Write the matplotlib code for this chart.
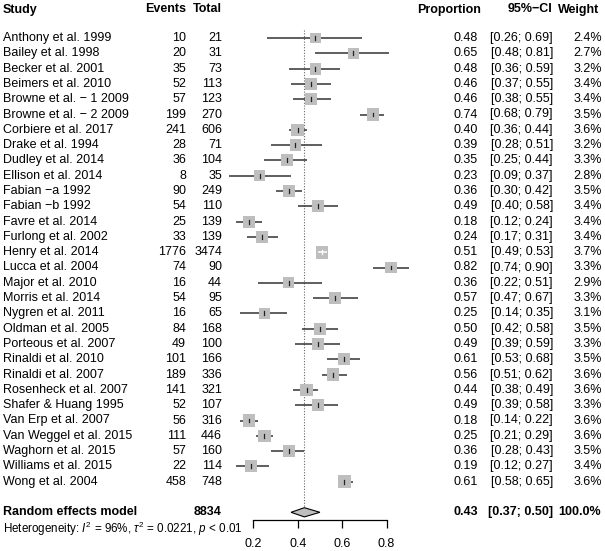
import numpy as np
import matplotlib.pyplot as plt
import matplotlib.transforms as mtransforms

plt.rcParams['font.family'] = ['Liberation Sans', 'DejaVu Sans']
plt.rcParams['mathtext.fontset'] = 'custom'
plt.rcParams['mathtext.rm'] = 'Liberation Sans'
plt.rcParams['mathtext.it'] = 'Liberation Sans:italic'

# data
studies = ["Anthony et al. 1999", "Bailey et al. 1998", "Becker et al. 2001", "Beimers et al. 2010",
           "Browne et al. \u2212 1 2009", "Browne et al. \u2212 2 2009", "Corbiere et al. 2017",
           "Drake et al. 1994", "Dudley et al. 2014", "Ellison et al. 2014", "Fabian \u2212a 1992",
           "Fabian \u2212b 1992", "Favre et al. 2014", "Furlong et al. 2002", "Henry et al. 2014",
           "Lucca et al. 2004", "Major et al. 2010", "Morris et al. 2014", "Nygren et al. 2011",
           "Oldman et al. 2005", "Porteous et al. 2007", "Rinaldi et al. 2010", "Rinaldi et al. 2007",
           "Rosenheck et al. 2007", "Shafer & Huang 1995", "Van Erp et al. 2007",
           "Van Weggel et al. 2015", "Waghorn et al. 2015", "Williams et al. 2015", "Wong et al. 2004"]
events = [10, 20, 35, 52, 57, 199, 241, 28, 36, 8, 90, 54, 25, 33, 1776, 74, 16, 54, 16, 84,
          49, 101, 189, 141, 52, 56, 111, 57, 22, 458]
totals = [21, 31, 73, 113, 123, 270, 606, 71, 104, 35, 249, 110, 139, 139, 3474, 90, 44, 95, 65,
          168, 100, 166, 336, 321, 107, 316, 446, 160, 114, 748]
prop = [0.48, 0.65, 0.48, 0.46, 0.46, 0.74, 0.40, 0.39, 0.35, 0.23, 0.36, 0.49, 0.18, 0.24, 0.51,
        0.82, 0.36, 0.57, 0.25, 0.50, 0.49, 0.61, 0.56, 0.44, 0.49, 0.18, 0.25, 0.36, 0.19, 0.61]
lower = [0.26, 0.48, 0.36, 0.37, 0.38, 0.68, 0.36, 0.28, 0.25, 0.09, 0.30, 0.40, 0.12, 0.17, 0.49,
         0.74, 0.22, 0.47, 0.14, 0.42, 0.39, 0.53, 0.51, 0.38, 0.39, 0.14, 0.21, 0.28, 0.12, 0.58]
upper = [0.69, 0.81, 0.59, 0.55, 0.55, 0.79, 0.44, 0.51, 0.44, 0.37, 0.42, 0.58, 0.24, 0.31, 0.53,
         0.90, 0.51, 0.67, 0.35, 0.58, 0.59, 0.68, 0.62, 0.49, 0.58, 0.22, 0.29, 0.43, 0.27, 0.65]
weight = [2.4, 2.7, 3.2, 3.4, 3.4, 3.5, 3.6, 3.2, 3.3, 2.8, 3.5, 3.4, 3.4, 3.4, 3.7, 3.3, 2.9, 3.3,
          3.1, 3.5, 3.3, 3.5, 3.6, 3.6, 3.3, 3.6, 3.6, 3.5, 3.4, 3.6]
total_n = 8834
re_est, re_lo, re_hi = 0.43, 0.37, 0.50
xticks = [0.2, 0.4, 0.6, 0.8]

W, H, DPI = 605, 551, 100
fig = plt.figure(figsize=(W / DPI, H / DPI), dpi=DPI)
ax = fig.add_axes([0, 0, 1, 1])

# pixel layout: x_px = 208.9 + 222 * x ; y_px = 38 + 15.3 * row
x0, xs = 208.9, 222.0
y0, ys = 38.0, 15.3
ax.set_xlim(-x0 / xs, (W - x0) / xs)
ax.set_ylim((H - y0) / ys, -y0 / ys)
ax.set_facecolor('none')
for s in ['top', 'left', 'right']:
    ax.spines[s].set_visible(False)
ax.set_yticks([])

n = len(studies)
rows = np.arange(n)
re_row = n + 1.0
axis_row = (519.5 - y0) / ys
het_row = (528.5 - y0) / ys
head_row = (9.5 - y0) / ys

# x axis
ax.spines['bottom'].set_position(('data', axis_row))
ax.spines['bottom'].set_bounds(xticks[0], xticks[-1])
ax.spines['bottom'].set_linewidth(0.9)
ax.set_xticks(xticks)
ax.set_xticklabels([f"{t:.1f}" for t in xticks])
ax.tick_params(axis='x', direction='out', length=6, width=0.9, pad=7.5, labelsize=9.0)

# reference line
ax.vlines(re_est, -0.52, re_row, colors='#666666', linestyles=(0, (1, 1.5)), linewidth=0.8, zorder=1)

# studies
side_px = 12.7 * np.sqrt(np.array(weight) / max(weight))
for i in range(n):
    half = side_px[i] / 2 / xs
    inside = lower[i] >= prop[i] - half and upper[i] <= prop[i] + half
    col = 'white' if inside else '#222222'
    ax.plot([lower[i], upper[i]], [i, i], color='#333333', linewidth=1.1, zorder=2, solid_capstyle='butt')
    ax.scatter(prop[i], i, marker='s', s=(side_px[i] * 72 / DPI) ** 2, color='#BEBEBE',
               edgecolors='none', zorder=3)
    if inside:
        ax.plot([lower[i], upper[i]], [i, i], color=col, linewidth=1.1, zorder=4, solid_capstyle='butt')
    ax.plot([prop[i], prop[i]], [i - 0.13, i + 0.13], color=col, linewidth=0.9, zorder=4)

# diamond
dh = 4.6 / ys
ax.fill([re_lo, re_est, re_hi, re_est], [re_row, re_row - dh, re_row, re_row + dh],
        facecolor='#BEBEBE', edgecolor='black', linewidth=0.8, zorder=3)

# text columns
fs = 9.0
def tr():
    return mtransforms.blended_transform_factory(fig.transFigure, ax.transData)

def col_text(xpx, row, s, ha='right', bold=False, size=fs):
    ax.text(xpx / W, row, s, transform=tr(), ha=ha, va='center', fontsize=size,
            fontweight='bold' if bold else 'normal')

col_text(3, head_row, "Study", ha='left', bold=True)
col_text(186, head_row, "Events", bold=True)
col_text(222, head_row, "Total", bold=True)
col_text(481, head_row, "Proportion", bold=True)
col_text(552, head_row, "95%\u2212CI", bold=True)
col_text(599, head_row, "Weight", bold=True)

for i in rows:
    col_text(3, i, studies[i], ha='left')
    col_text(186, i, str(events[i]))
    col_text(222, i, str(totals[i]))
    col_text(478, i, f"{prop[i]:.2f}")
    col_text(553, i, f"[{lower[i]:.2f}; {upper[i]:.2f}]")
    col_text(602, i, f"{weight[i]:.1f}%")

col_text(3, re_row, "Random effects model", ha='left', bold=True)
col_text(222, re_row, str(total_n), bold=True)
col_text(478, re_row, f"{re_est:.2f}", bold=True)
col_text(553, re_row, f"[{re_lo:.2f}; {re_hi:.2f}]", bold=True)
col_text(601, re_row, "100.0%", bold=True)
col_text(3, het_row, r"Heterogeneity: $I^2$ = 96%, $\tau^2$ = 0.0221, $p$ < 0.01", ha='left', size=8.4)

fig.savefig('out.png', dpi=DPI)
